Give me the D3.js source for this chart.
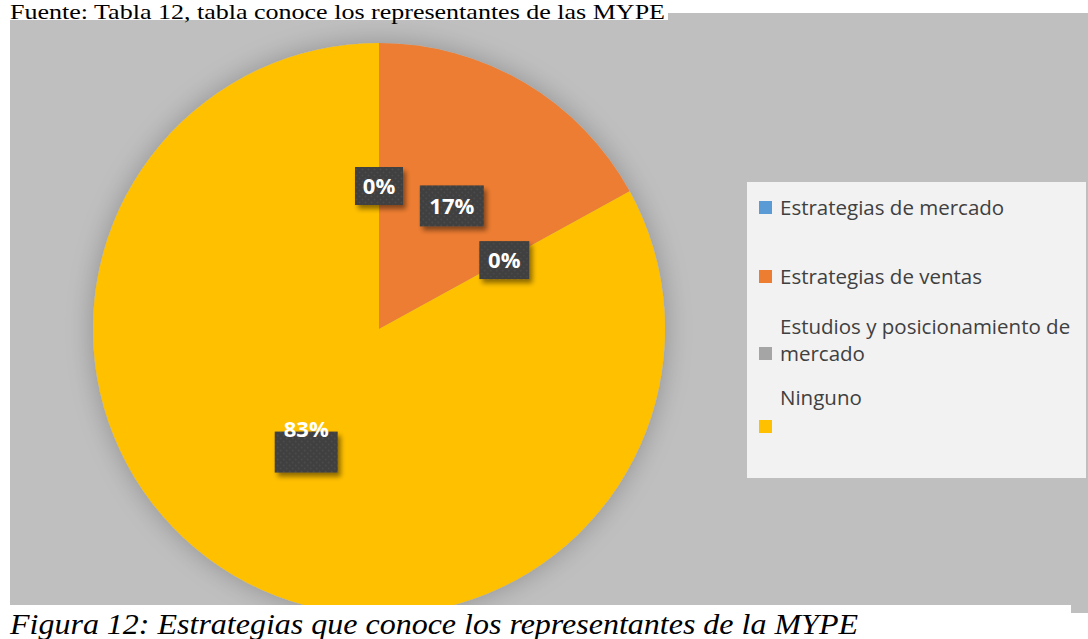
<!DOCTYPE html>
<html><head><meta charset="utf-8">
<script src="https://cdn.jsdelivr.net/npm/d3@7"></script>
<style>html,body{margin:0;padding:0;background:#fff;}svg{display:block;}</style>
</head><body>
<script>
const categories = ["Estrategias de mercado", "Estrategias de ventas", "Estudios y posicionamiento de mercado", "Ninguno"];
const values = [0, 17, 0, 83];
const labels = ["0%", "17%", "0%", "83%"];
const legendLines = [["Estrategias de mercado"], ["Estrategias de ventas"], ["Estudios y posicionamiento de", "mercado"], ["Ninguno", ""]];
const colors = ["#5b9bd5", "#ed7d31", "#a5a5a5", "#ffc000"];
const sourceText = "Fuente: Tabla 12, tabla conoce los representantes de las MYPE";
const captionText = "Figura 12: Estrategias que conoce los representantes de la MYPE";

const W = 1088, H = 639;
const svg = d3.select("body").append("svg").attr("width", W).attr("height", H);
const defs = svg.append("defs");

const sh = defs.append("filter").attr("id","pieShadow").attr("x","-20%").attr("y","-20%").attr("width","140%").attr("height","140%");
sh.append("feGaussianBlur").attr("in","SourceAlpha").attr("stdDeviation",14).attr("result","b");
sh.append("feComponentTransfer").attr("in","b").attr("result","b2").append("feFuncA").attr("type","linear").attr("slope",0.25);
sh.append("feOffset").attr("in","b2").attr("dx",0).attr("dy",0).attr("result","o");
const m = sh.append("feMerge"); m.append("feMergeNode").attr("in","o"); m.append("feMergeNode").attr("in","SourceGraphic");

const ls = defs.append("filter").attr("id","lblShadow").attr("x","-30%").attr("y","-30%").attr("width","160%").attr("height","160%");
ls.append("feGaussianBlur").attr("in","SourceAlpha").attr("stdDeviation",2.5).attr("result","b");
ls.append("feOffset").attr("in","b").attr("dx",3).attr("dy",4).attr("result","o");
ls.append("feComponentTransfer").attr("in","o").attr("result","o2").append("feFuncA").attr("type","linear").attr("slope",0.45);
const m2 = ls.append("feMerge"); m2.append("feMergeNode").attr("in","o2"); m2.append("feMergeNode").attr("in","SourceGraphic");

const pat = defs.append("pattern").attr("id","dots").attr("patternUnits","userSpaceOnUse").attr("width",6).attr("height",6);
pat.append("rect").attr("width",6).attr("height",6).attr("fill","#3f3f3f");
pat.append("circle").attr("cx",1.5).attr("cy",1.5).attr("r",1).attr("fill","#4d4d4d");
pat.append("circle").attr("cx",4.5).attr("cy",4.5).attr("r",1).attr("fill","#4d4d4d");

// chart area background
svg.append("rect").attr("x",10).attr("y",13).attr("width",W-10).attr("height",600).attr("fill","#bfbfbf");

// pie
const cx = 379, cy = 329, R = 286;
const pie = d3.pie().sort(null).value(d => d)(values);
const arc = d3.arc().innerRadius(0).outerRadius(R);
const g = svg.append("g").attr("transform", `translate(${cx},${cy})`);
g.append("g").attr("filter","url(#pieShadow)").selectAll("path").data(pie).join("path")
  .attr("d", arc).attr("fill", (d,i) => colors[i]);

// data labels
const lblArc = d3.arc().innerRadius(R/2).outerRadius(R/2);
const boxW = [48, 64, 50, 63], boxH = [38, 41, 38, 41];
const textDy = [0, 0, 0, -23];
const lg = g.append("g");
pie.forEach((d,i) => {
  const [x,y] = lblArc.centroid(d);
  const gg = lg.append("g").attr("transform", `translate(${x},${y})`);
  gg.append("rect").attr("x",-boxW[i]/2).attr("y",-boxH[i]/2).attr("width",boxW[i]).attr("height",boxH[i])
    .attr("fill","url(#dots)").attr("filter","url(#lblShadow)");
  gg.append("text").attr("x",0).attr("y",textDy[i]).attr("dy","0.36em").attr("text-anchor","middle")
    .attr("font-family","'Open Sans', sans-serif").attr("font-weight","bold").attr("font-size",22)
    .attr("fill","#ffffff").text(labels[i]);
});

// legend
const lgX = 747, lgY = 182;
svg.append("rect").attr("x",lgX).attr("y",lgY).attr("width",339).attr("height",296).attr("fill","#f2f2f2");
const itemTop = [208, 277, 327, 398];
const lineH = 27;
const leg = svg.append("g");
categories.forEach((c,i) => {
  const lines = legendLines[i];
  const last = itemTop[i] + (lines.length-1)*(i===3 ? 29 : lineH);
  leg.append("rect").attr("x",759).attr("y",last-7).attr("width",13).attr("height",13).attr("fill",colors[i]);
  lines.forEach((t,j) => {
    leg.append("text").attr("x",780).attr("y",itemTop[i] + j*lineH).attr("dy","0.35em")
      .attr("font-family","'Open Sans', sans-serif").attr("font-size",20.5).attr("fill","#404040").text(t);
  });
});

// source text
svg.append("rect").attr("x",0).attr("y",0).attr("width",668).attr("height",20).attr("fill","#ffffff");
svg.append("text").attr("x",10).attr("y",19).attr("font-family","'Liberation Serif', 'Times New Roman', serif")
  .attr("font-size",21.5).attr("fill","#000").attr("textLength",655).attr("lengthAdjust","spacingAndGlyphs").text(sourceText);

// caption
svg.append("rect").attr("x",0).attr("y",605).attr("width",1071).attr("height",34).attr("fill","#ffffff");
svg.append("text").attr("x",10).attr("y",634).attr("font-family","'Liberation Serif', 'Times New Roman', serif")
  .attr("font-style","italic").attr("font-size",29).attr("fill","#000").attr("textLength",848).attr("lengthAdjust","spacingAndGlyphs").text(captionText);
</script>
</body></html>
